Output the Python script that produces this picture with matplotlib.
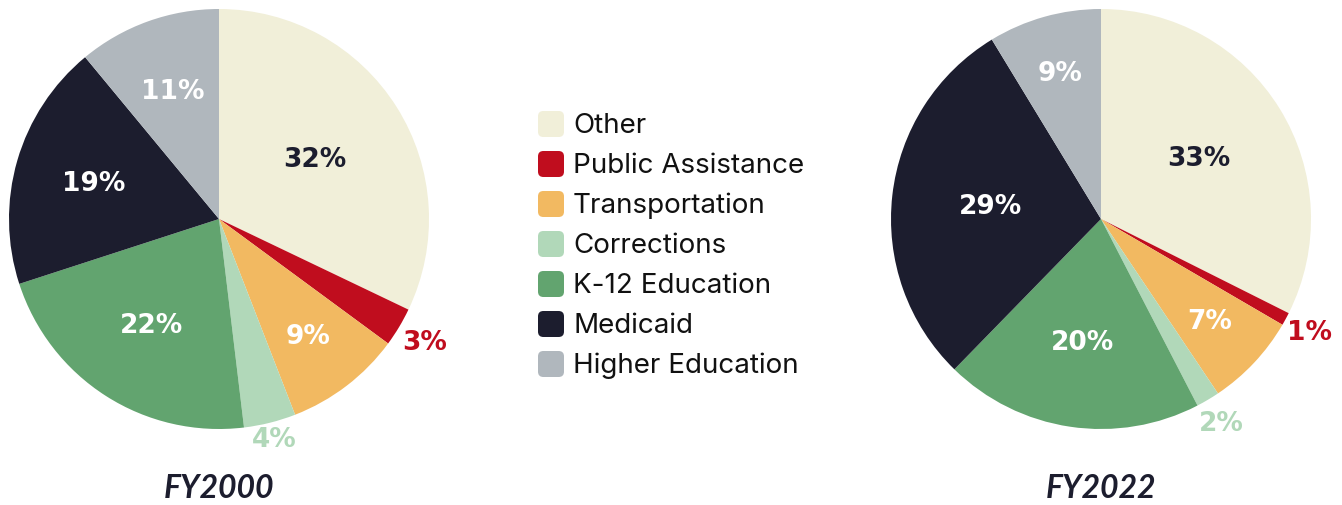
import matplotlib.pyplot as plt
from matplotlib.patches import FancyBboxPatch
import numpy as np

categories = ['Other', 'Public Assistance', 'Transportation', 'Corrections',
              'K-12 Education', 'Medicaid', 'Higher Education']
colors = ['#f1efd9', '#c00d1e', '#f2b961', '#b1d8b9', '#62a46f', '#1c1d2e', '#b0b7bd']

# shares (clockwise from 12 o'clock)
fy2000 = [32.1, 3.0, 9.0, 4.0, 21.9, 19.0, 11.0]
fy2022 = [32.4, 1.0, 7.2, 1.8, 19.9, 29.0, 8.7]
fy2000_labels = ['32%', '3%', '9%', '4%', '22%', '19%', '11%']
fy2022_labels = ['33%', '1%', '7%', '2%', '20%', '29%', '9%']

NAVY = '#1c1d2e'
W, H = 1342, 506
fig = plt.figure(figsize=(W / 100, H / 100), dpi=100)


def draw_pie(cx, title, values, labels, label_r):
    r = 210
    ax = fig.add_axes([(cx - r) / W, (H - 220 - r) / H, 2 * r / W, 2 * r / H])
    wedges, _ = ax.pie(values, colors=colors, startangle=90, counterclock=False,
                       radius=1, wedgeprops=dict(linewidth=0))
    ax.set_xlim(-1, 1)
    ax.set_ylim(-1, 1)
    ax.set_aspect('equal')
    ax.axis('off')
    for w, lab, lr, col in zip(wedges, labels, label_r, colors):
        ang = np.deg2rad((w.theta1 + w.theta2) / 2)
        x, y = lr * np.cos(ang), lr * np.sin(ang)
        if lr > 1:
            tc = col
        elif col == '#f1efd9':
            tc = NAVY
        else:
            tc = 'white'
        ax.text(x, y, lab, ha='center', va='center', fontsize=19,
                fontweight='bold', family='DejaVu Sans', color=tc)
    fig.text(cx / W, 1 - 489 / H, title, ha='center', va='center', fontsize=23,
             fontweight='bold', fontstyle='italic', family='Lato', color=NAVY)


draw_pie(219, 'FY2000', fy2000, fy2000_labels, [0.54, 1.14, 0.7, 1.08, 0.6, 0.62, 0.65])
draw_pie(1101, 'FY2022', fy2022, fy2022_labels, [0.55, 1.13, 0.71, 1.13, 0.59, 0.53, 0.72])

# legend in the middle
for i, (cat, col) in enumerate(zip(categories, colors)):
    yc = 125 + 40 * i
    box = FancyBboxPatch(((537 + 1) / W, 1 - (yc + 13) / H), 26 / W, 26 / H,
                         boxstyle='round,pad=0,rounding_size=0.004',
                         transform=fig.transFigure, facecolor=col, edgecolor='none',
                         mutation_aspect=W / H)
    fig.add_artist(box)
    fig.text(573 / W, 1 - (yc + 1) / H, cat, ha='left', va='center', fontsize=20,
             family='Inter', color='#111111')

fig.savefig('out.png', dpi=100, facecolor='white')
